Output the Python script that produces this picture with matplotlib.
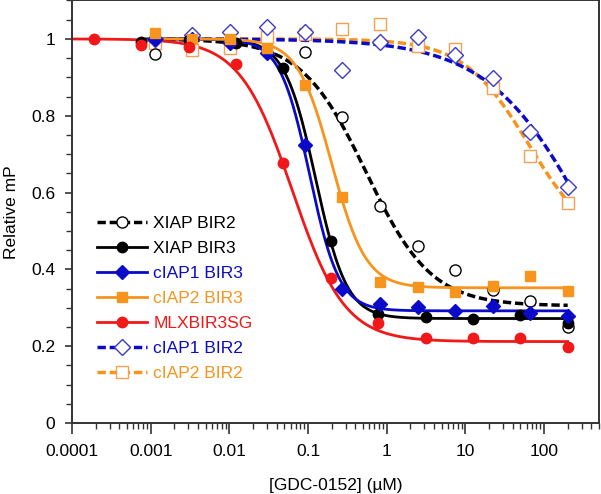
import numpy as np
import matplotlib
matplotlib.use("Agg")
import matplotlib.pyplot as plt
from matplotlib.ticker import FixedLocator, NullFormatter, LogLocator
from matplotlib.lines import Line2D

plt.rcParams['font.family'] = ['Liberation Sans', 'DejaVu Sans']

# ---- data ----
conc3 = [0.00113, 0.00339, 0.0102, 0.0305, 0.0914, 0.274, 0.823, 2.47, 7.41, 22.2, 66.7, 200]
conc4 = [0.00019, 0.00076, 0.00305, 0.0122, 0.0488, 0.195, 0.781, 3.125, 12.5, 50, 200]

xiap_bir2_x = [0.00113, 0.0914, 0.274, 0.823, 2.47, 7.41, 22.2, 66.7, 200]
xiap_bir2_y = [0.96, 0.966, 0.797, 0.565, 0.461, 0.398, 0.346, 0.318, 0.25]

xiap_bir3_x = [0.00076, 0.00305, 0.0122, 0.0488, 0.195, 0.781, 3.125, 12.5, 50, 200]
xiap_bir3_y = [0.992, 0.997, 0.99, 0.924, 0.474, 0.285, 0.276, 0.271, 0.281, 0.26]

ciap1_bir3_y = [1.0, 1.0, 0.99, 0.963, 0.724, 0.35, 0.31, 0.302, 0.292, 0.305, 0.286, 0.279]
ciap2_bir3_y = [1.016, 1.0, 1.0, 0.977, 0.88, 0.589, 0.367, 0.354, 0.341, 0.357, 0.383, 0.344]
mlx_y = [1.0, 0.984, 0.98, 0.935, 0.677, 0.378, 0.26, 0.221, 0.221, 0.221, 0.198]
ciap1_bir2_y = [1.0, 1.01, 1.018, 1.031, 1.018, 0.92, 0.992, 1.005, 0.958, 0.898, 0.758, 0.615]
ciap2_bir2_y = [0.99, 0.971, 0.977, 1.005, 1.013, 1.026, 1.039, 0.982, 0.974, 0.872, 0.695, 0.573]

# fitted 4-parameter logistic parameters: (top, bottom, IC50, hill)
fit_xiap_bir2 = (1.0, 0.305, 0.55, 1.05)
fit_xiap_bir3 = (1.0, 0.272, 0.125, 2.2)
fit_ciap1_bir3 = (1.0, 0.292, 0.105, 2.3)
fit_ciap2_bir3 = (1.0, 0.352, 0.2, 2.0)
fit_mlx = (1.0, 0.212, 0.063, 1.3)
fit_ciap1_bir2 = (1.0, 0.0, 440.0, 0.66)
fit_ciap2_bir2 = (1.0, 0.45, 64.0, 1.05)

labels = ["XIAP BIR2", "XIAP BIR3", "cIAP1 BIR3", "cIAP2 BIR3", "MLXBIR3SG", "cIAP1 BIR2", "cIAP2 BIR2"]
xticklabels = ["0.0001", "0.001", "0.01", "0.1", "1", "10", "100"]
yticklabels = ["0", "0.2", "0.4", "0.6", "0.8", "1"]

RED = "#f01818"
ORANGE = "#f7941d"
BLUE = "#0a0ac8"
BLACK = "#000000"
ODIAM = "#3a3acc"
OSQ = "#f5a050"


def logistic(x, p):
    top, bot, ic50, h = p
    return bot + (top - bot) / (1.0 + (x / ic50) ** h)


fig = plt.figure(figsize=(6.01, 4.94), dpi=100)
ax = fig.add_axes([72 / 601, 71 / 494, 527 / 601, 422.5 / 494])
ax.set_xscale('log')

dash = (2.4, 1.1)
series = [
    # x, y, fit, color, ls, marker, mfc, mec, ms, xstart, label
    (conc3, ciap2_bir2_y, fit_ciap2_bir2, ORANGE, 'dash', 's', 'white', OSQ, 8.3, 0.00113, labels[6]),
    (conc3, ciap1_bir2_y, fit_ciap1_bir2, BLUE, 'dash', 'D', 'white', ODIAM, 8.3, 0.00113, labels[5]),
    (xiap_bir2_x, xiap_bir2_y, fit_xiap_bir2, BLACK, 'dash', 'o', 'white', BLACK, 8.0, 0.00113, labels[0]),
    (xiap_bir3_x, xiap_bir3_y, fit_xiap_bir3, BLACK, 'solid', 'o', BLACK, BLACK, 7.5, 0.00076, labels[1]),
    (conc3, ciap1_bir3_y, fit_ciap1_bir3, BLUE, 'solid', 'D', BLUE, BLUE, 7.3, 0.00113, labels[2]),
    (conc3, ciap2_bir3_y, fit_ciap2_bir3, ORANGE, 'solid', 's', ORANGE, ORANGE, 7.5, 0.00113, labels[3]),
    (conc4, mlx_y, fit_mlx, RED, 'solid', 'o', RED, RED, 7.5, 0.0001, labels[4]),
]

handles = {}
for x, y, p, col, ls, mk, mfc, mec, ms, x0, lab in series:
    xx = np.logspace(np.log10(x0), np.log10(200), 400)
    if ls == 'dash':
        ax.plot(xx, logistic(xx, p), color=col, lw=2.5, dashes=dash, zorder=2)
    else:
        ax.plot(xx, logistic(xx, p), color=col, lw=2.0, zorder=2)
    mew = 1.0
    ax.plot(x, y, ls='none', marker=mk, ms=ms, mfc=mfc, mec=mec, mew=mew, zorder=3)
    h = Line2D([], [], color=col, lw=2.5 if ls == 'dash' else 2.0,
               dashes=dash if ls == 'dash' else (None, None),
               marker=mk, ms=ms, mfc=mfc, mec=mec, mew=mew)
    handles[lab] = (h, col)

ax.set_xlim(1e-4, 500)
ax.set_ylim(0, 1.1)

ax.xaxis.set_major_locator(FixedLocator([1e-4, 1e-3, 1e-2, 1e-1, 1, 10, 100]))
ax.set_xticklabels(xticklabels)
ax.xaxis.set_minor_locator(LogLocator(base=10, subs=np.arange(2, 10), numticks=20))
ax.xaxis.set_minor_formatter(NullFormatter())
ax.yaxis.set_major_locator(FixedLocator([0, 0.2, 0.4, 0.6, 0.8, 1.0]))
ax.set_yticklabels(yticklabels)
ax.yaxis.set_minor_locator(FixedLocator(np.arange(0, 1.101, 0.05)))

ax.tick_params(axis='x', which='major', direction='out', length=8, width=1.2, pad=7, labelsize=12.5, color='#333333')
ax.tick_params(axis='x', which='minor', direction='out', length=4, width=1.0, color='#333333')
ax.tick_params(axis='y', which='major', direction='out', length=5, width=1.2, pad=7, labelsize=12.5, color='#333333')
ax.tick_params(axis='y', which='minor', direction='out', length=4, width=1.0, color='#333333')
for s in ax.spines.values():
    s.set_color('#333333')
    s.set_linewidth(1.4)

ax.set_xlabel("[GDC-0152] (\u00b5M)", fontsize=12.5, labelpad=14)
ax.set_ylabel("Relative mP", fontsize=12.5, labelpad=9)

hl = [handles[l][0] for l in labels]
leg = ax.legend(hl, labels, loc='upper left', bbox_to_anchor=(0.047, 0.49), frameon=False,
                fontsize=12.5, handlelength=2.9, handletextpad=0.35, labelspacing=0.57,
                borderpad=0, borderaxespad=0)
for t, l in zip(leg.get_texts(), labels):
    t.set_color(handles[l][1])

fig.savefig("out.png", dpi=100)
